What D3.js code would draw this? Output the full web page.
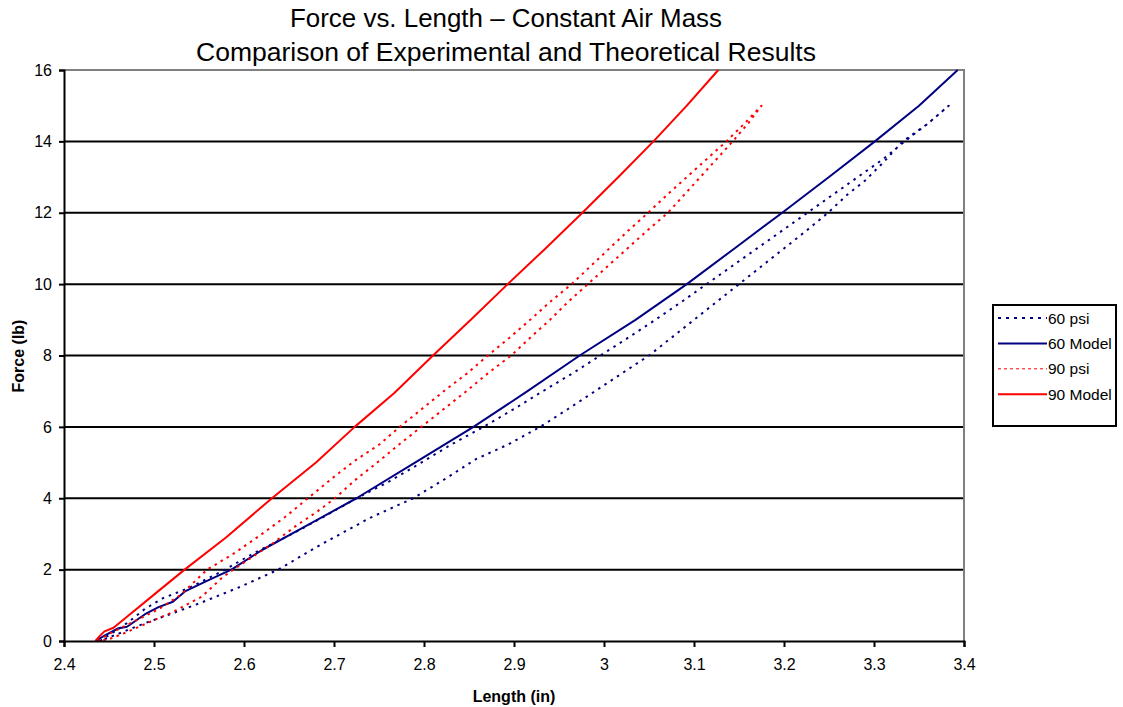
<!DOCTYPE html>
<html>
<head>
<meta charset="utf-8">
<script src="https://d3js.org/d3.v7.min.js"></script>
<style>
  body { margin: 0; background: #fff; }
  svg text { font-family: "Liberation Sans", Arial, sans-serif; fill: #000; }
</style>
</head>
<body>
<div id="chart"></div>
<script>
/* ============================================================
   DATA
   ============================================================ */

const titleLines = [
  'Force vs. Length \u2013 Constant Air Mass',
  'Comparison of Experimental and Theoretical Results',
];

const xTicks = [2.4, 2.5, 2.6, 2.7, 2.8, 2.9, 3.0, 3.1, 3.2, 3.3, 3.4];
const yTicks = [0, 2, 4, 6, 8, 10, 12, 14, 16];

const seriesNames = ['60 psi', '60 Model', '90 psi', '90 Model'];

// 60 psi test: loading branch up, unloading branch back down
const psi60 = [
  [2.44, 0], [2.455, 0.25], [2.47, 0.5], [2.49, 0.9], [2.51, 1.2], [2.54, 1.5],
  [2.579, 2], [2.61, 2.45], [2.655, 3.02], [2.69, 3.5], [2.725, 4],
  [2.76, 4.45], [2.797, 5], [2.83, 5.5], [2.866, 6], [2.9, 6.5], [2.932, 7],
  [2.965, 7.5], [2.996, 8], [3.027, 8.5], [3.057, 9], [3.086, 9.5], [3.114, 10],
  [3.142, 10.5], [3.17, 11], [3.198, 11.5], [3.226, 12], [3.254, 12.5], [3.282, 13],
  [3.31, 13.5], [3.334, 14], [3.36, 14.5], [3.383, 15],
  [3.36, 14.5], [3.332, 14], [3.31, 13.4], [3.29, 12.9], [3.27, 12.5], [3.249, 12],
  [3.225, 11.5], [3.2, 11], [3.175, 10.5], [3.15, 10], [3.125, 9.5], [3.1, 9],
  [3.075, 8.5], [3.05, 8], [3.02, 7.5], [2.99, 7], [2.96, 6.5], [2.929, 6],
  [2.893, 5.5], [2.858, 5.1], [2.824, 4.55], [2.788, 4], [2.74, 3.45],
  [2.681, 2.64], [2.638, 2], [2.596, 1.52], [2.551, 1.06],
  [2.521, 0.78], [2.49, 0.5], [2.46, 0.2], [2.44, 0],
];

const model60 = [
  [2.435, 0], [2.445, 0.15], [2.46, 0.35], [2.47, 0.4], [2.49, 0.75], [2.505, 0.95],
  [2.521, 1.1], [2.535, 1.4], [2.56, 1.7], [2.586, 2], [2.62, 2.55], [2.66, 3.1],
  [2.725, 4], [2.79, 5], [2.855, 6], [2.915, 7], [2.973, 8], [3.035, 9],
  [3.092, 10], [3.145, 11], [3.198, 12], [3.25, 13], [3.301, 14], [3.35, 15],
  [3.393, 16],
];

// 90 psi test: loading branch up, unloading branch back down
const psi90 = [
  [2.438, 0], [2.45, 0.2], [2.47, 0.45], [2.49, 0.7], [2.507, 0.92], [2.53, 1.3],
  [2.559, 2], [2.588, 2.44], [2.62, 3], [2.647, 3.5], [2.671, 4],
  [2.7, 4.6], [2.723, 5.05], [2.75, 5.5], [2.773, 6], [2.8, 6.55], [2.822, 7],
  [2.848, 7.5], [2.871, 8], [2.895, 8.5], [2.918, 9], [2.94, 9.5], [2.964, 10],
  [2.985, 10.5], [3.006, 11], [3.027, 11.5], [3.049, 12], [3.07, 12.5], [3.092, 13],
  [3.114, 13.5], [3.136, 14], [3.156, 14.5], [3.175, 15],
  [3.16, 14.5], [3.143, 14], [3.125, 13.5], [3.107, 13], [3.089, 12.5], [3.071, 12],
  [3.048, 11.5], [3.026, 11], [3.004, 10.5], [2.982, 10], [2.96, 9.5], [2.94, 9],
  [2.918, 8.5], [2.897, 8], [2.871, 7.5], [2.847, 7], [2.822, 6.5], [2.797, 6],
  [2.772, 5.5], [2.748, 5], [2.723, 4.5], [2.701, 4], [2.68, 3.6], [2.659, 3.25],
  [2.63, 2.7], [2.588, 2], [2.575, 1.76], [2.553, 1.24], [2.52, 0.8], [2.496, 0.54],
  [2.47, 0.25], [2.45, 0.05], [2.44, 0],
];

const model90 = [
  [2.435, 0], [2.44, 0.15], [2.445, 0.27], [2.455, 0.37], [2.47, 0.68], [2.5, 1.3],
  [2.534, 2], [2.58, 2.9], [2.631, 4], [2.68, 5], [2.723, 6], [2.767, 6.95],
  [2.81, 8], [2.852, 9], [2.893, 10], [2.935, 11], [2.976, 12], [3.016, 13],
  [3.055, 14], [3.092, 15], [3.127, 16],
];


/* ============================================================
   STYLE
   ============================================================ */

const W = 1123, H = 707;
const M = { top: 70, right: 159, bottom: 66, left: 64 };

const seriesData   = [psi60, model60, psi90, model90];
const seriesColor  = ['#000080', '#000080', '#ff0000', '#ff0000'];
const seriesWidth  = [2, 2, 2, 2];
const seriesDash   = ['2.5,5', null, '2.5,4.5', null];
const legendWidth  = [2, 2, 1, 2];
const legendDash   = ['3,5', null, '3,3', null];

// title line widths as drawn in the reference (glyphs are a little stretched)
const titleWidths  = [432, 620];

const series = seriesNames.map((name, i) => ({
  name,
  data:  seriesData[i],
  color: seriesColor[i],
  width: seriesWidth[i],
  dash:  seriesDash[i],
}));


/* ============================================================
   DRAW
   ============================================================ */

const svg = d3.select('#chart')
  .append('svg')
  .attr('width',  W)
  .attr('height', H);

const x = d3.scaleLinear().domain([2.4, 3.4]).range([M.left, W - M.right]);
const y = d3.scaleLinear().domain([0, 16]).range([H - M.bottom, M.top]);

/* Title */
svg.append('g')
  .selectAll('text')
  .data(titleLines)
  .join('text')
  .attr('x', 506)
  .attr('y', (d, i) => 27 + i * 33.5)
  .attr('text-anchor', 'middle')
  .attr('font-size', 25)
  .attr('textLength', (d, i) => titleWidths[i])
  .attr('lengthAdjust', 'spacingAndGlyphs')
  .text(d => d);

/* Gridlines */
svg.append('g')
  .selectAll('line')
  .data(yTicks.filter(d => d > 0 && d < 16))
  .join('line')
  .attr('x1', x(2.4)).attr('x2', x(3.4))
  .attr('y1', d => y(d)).attr('y2', d => y(d))
  .attr('stroke', '#000')
  .attr('stroke-width', 2);

/* Plot frame (top and right in grey) */
svg.append('path')
  .attr('d', `M${x(2.4)},${y(16)}H${x(3.4)}V${y(0)}`)
  .attr('fill', 'none')
  .attr('stroke', '#808080')
  .attr('stroke-width', 2);

/* Series */
const line = d3.line()
  .x(d => x(d[0]))
  .y(d => y(d[1]));

const plot = svg.append('g');

plot.selectAll('path')
  .data(series)
  .join('path')
  .attr('d', d => line(d.data))
  .attr('fill', 'none')
  .attr('stroke', d => d.color)
  .attr('stroke-width', d => d.width)
  .attr('stroke-dasharray', d => d.dash)
  .attr('stroke-linejoin', 'round');

/* Axes */
const xAxis = svg.append('g')
  .attr('transform', `translate(0,${y(0)})`)
  .call(d3.axisBottom(x)
    .tickValues(xTicks)
    .tickSize(6)
    .tickPadding(12)
    .tickFormat(d => String(+d.toFixed(1))));

const yAxis = svg.append('g')
  .attr('transform', `translate(${x(2.4)},0)`)
  .call(d3.axisLeft(y)
    .tickValues(yTicks)
    .tickSize(5)
    .tickPadding(7));

[xAxis, yAxis].forEach(g => {
  g.select('.domain').attr('stroke', '#000').attr('stroke-width', 2);
  g.selectAll('.tick line').attr('stroke', '#000').attr('stroke-width', 2);
  g.selectAll('.tick text')
    .attr('font-size', 16)
    .attr('font-family', '"Liberation Sans", Arial, sans-serif')
    .attr('fill', '#000');
});

/* Axis titles */
svg.append('text')
  .attr('x', 514)
  .attr('y', 702)
  .attr('text-anchor', 'middle')
  .attr('font-size', 16)
  .attr('font-weight', 'bold')
  .text('Length (in)');

svg.append('text')
  .attr('transform', `translate(24,${356}) rotate(-90)`)
  .attr('text-anchor', 'middle')
  .attr('font-size', 16)
  .attr('font-weight', 'bold')
  .text('Force (lb)');

/* Legend */
const legend = svg.append('g')
  .attr('transform', 'translate(993,305)');

legend.append('rect')
  .attr('width', 123)
  .attr('height', 121)
  .attr('fill', '#fff')
  .attr('stroke', '#000')
  .attr('stroke-width', 2);

const item = legend.selectAll('g.item')
  .data(series)
  .join('g')
  .attr('class', 'item')
  .attr('transform', (d, i) => `translate(0,${13 + i * 25.4})`);

item.append('line')
  .attr('x1', 5).attr('x2', 54)
  .attr('stroke', d => d.color)
  .attr('stroke-width', (d, i) => legendWidth[i])
  .attr('stroke-dasharray', (d, i) => legendDash[i]);

item.append('text')
  .attr('x', 55)
  .attr('dy', '0.36em')
  .attr('font-size', 15.5)
  .text(d => d.name);
</script>
</body>
</html>
